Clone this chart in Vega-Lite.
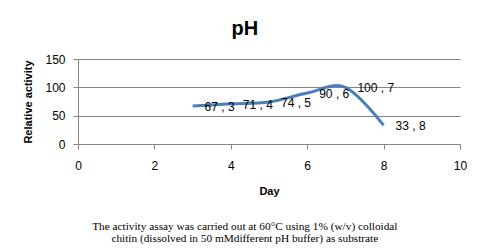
{
  "$schema": "https://vega.github.io/schema/vega-lite/v6.json",
  "padding": {"left": 22, "top": 19, "right": 12, "bottom": 2},
  "background": "white",
  "title": {
    "text": ["The activity assay was carried out at 60°C using 1% (w/v) colloidal", "chitin (dissolved in 50 mMdifferent pH buffer) as substrate"],
    "orient": "bottom", "anchor": "middle", "frame": "bounds",
    "font": "Liberation Serif", "fontSize": 11.3, "fontWeight": "normal", "color": "black",
    "offset": 25, "lineHeight": 11.6
  },
  "vconcat": [
    {
      "width": 382,
      "height": 85,
      "title": {"text": "pH", "font": "Liberation Sans", "fontSize": 20, "fontWeight": "bold", "anchor": "middle", "frame": "bounds", "offset": 14, "color": "black"},
      "data": {
        "values": [
          {"day": 3, "activity": 67, "label": "67 , 3"},
          {"day": 4, "activity": 71, "label": "71 , 4"},
          {"day": 5, "activity": 74, "label": "74 , 5"},
          {"day": 6, "activity": 90, "label": "90 , 6"},
          {"day": 7, "activity": 100, "label": "100 , 7"},
          {"day": 8, "activity": 33, "label": "33 , 8"}
        ]
      },
      "encoding": {
        "x": {
          "field": "day", "type": "quantitative",
          "scale": {"domain": [0, 10], "nice": false, "zero": false},
          "axis": {"values": [0, 2, 4, 6, 8, 10], "grid": false, "title": "Day", "labelPadding": 11, "titlePadding": 14, "labelFlush": false}
        },
        "y": {
          "field": "activity", "type": "quantitative",
          "scale": {"domain": [0, 150], "nice": false},
          "axis": {"values": [0, 50, 100, 150], "grid": true, "title": "Relative activity", "labelPadding": 8, "titlePadding": 11}
        }
      },
      "layer": [
        {"mark": {"type": "line", "interpolate": "cardinal", "color": "#4A7EBB", "strokeWidth": 3}},
        {
          "mark": {"type": "text", "align": "left", "baseline": "middle", "dx": 12, "dy": 1, "font": "Liberation Sans", "fontSize": 12, "color": "black"},
          "encoding": {"text": {"field": "label"}}
        }
      ]
    }
  ],
  "config": {
    "view": {"stroke": null},
    "axis": {
      "domainColor": "#868686", "tickColor": "#868686", "gridColor": "#868686", "gridOpacity": 1,
      "tickSize": 5, "labelFont": "Liberation Sans", "labelFontSize": 12, "labelColor": "black",
      "titleFont": "Liberation Sans", "titleFontSize": 11, "titleFontWeight": "bold", "titleColor": "black"
    }
  }
}
